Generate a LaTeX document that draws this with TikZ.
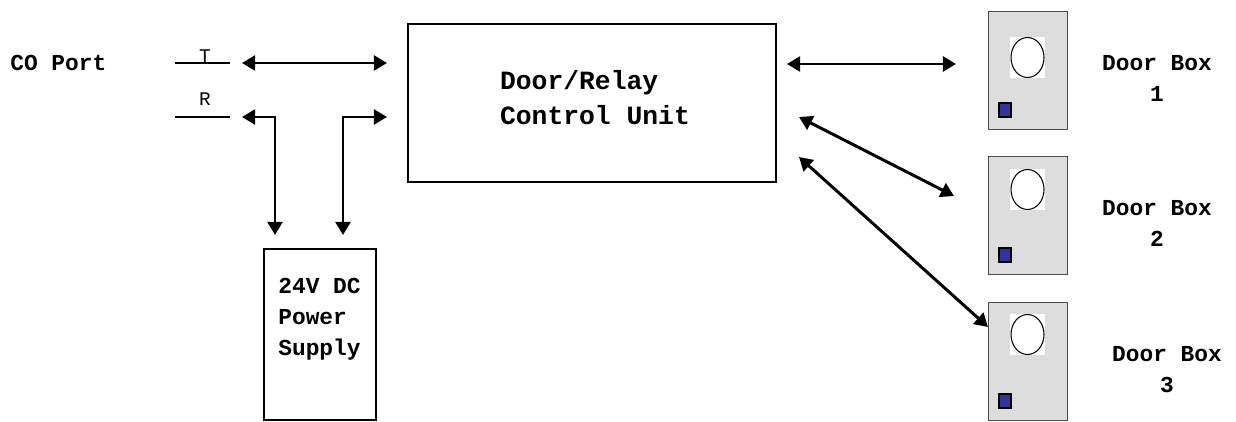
\documentclass[tikz,border=0pt]{standalone}
\usepackage{fontspec}
\setmainfont{Liberation Mono}
\usepackage{xcolor}
\usetikzlibrary{arrows.meta}
\usetikzlibrary{positioning}

\definecolor{boxgray}{HTML}{DDDDDD}
\definecolor{knob}{HTML}{333399}

\tikzset{
  unit/.style={draw, line width=0.7pt, inner sep=0pt},
  link/.style={line width=1.7pt,
    {Triangle[length=7.5pt,width=8.5pt]}-{Triangle[length=7.5pt,width=8.5pt]}},
  tag/.style={font=\bfseries\fontsize{13}{17.6}\selectfont, inner sep=0pt, align=center},
  wire/.style={font=\fontsize{11}{13}\selectfont, inner sep=0pt},
}

\begin{document}
\begin{tikzpicture}[x=0.02cm, y=-0.02cm] % 1 unit = 1 px

      \useasboundingbox (0,0) rectangle (1236,422);

      % CO port
      \node [tag, anchor=west] (co) at (10,63) {CO Port};
      \draw [line width=0.6pt] (175,63) -- (230,63);
      \draw [line width=0.6pt] (175,117) -- (230,117);
      \node [wire, anchor=base] (tw) at (205,63) {T};
      \node [wire, anchor=base] (rw) at (205,106) {R};

      % control unit and power supply
      \node [unit, minimum width=7.36cm, minimum height=3.16cm] (cu) at (592,103) {};
      \node [tag, font=\bfseries\fontsize{15}{20}\selectfont, align=left]
      (cutext) at (595,97.5) {Door/Relay\\Control Unit};

      \node [unit, minimum width=2.24cm, minimum height=3.42cm] (ps) at (320,334.5) {};
      \node [tag, align=left, anchor=west] (pstext) at (278,319) {24V DC\\Power\\Supply};

      % door boxes
      \foreach \i/\t/\c/\s/\lx in {1/11/37/103/1157, 2/156/169/248/1157, 3/302/314/394/1167} {
        \node [draw=black!70, fill=boxgray, line width=0.6pt, inner sep=0pt,
        minimum width=1.58cm, minimum height=2.36cm, anchor=north west]
        (door\i) at (988,\t) {};
        \fill [white] (1010,\c) rectangle (1045,{\c+41});
        \draw [line width=0.6pt] (1027.5,{\c+20.5}) ellipse [x radius=0.33cm, y radius=0.4cm];
        \draw [fill=knob, line width=0.6pt] (999,\s) rectangle (1011,{\s+14});
        \node [tag] (doorlabel\i) at (\lx,{\t+67.5}) {Door Box\\\i};
      }

      % arrow ends
      \coordinate (t-a) at (242,63);
      \coordinate (t-b) at (387,63);
      \coordinate (r-a) at (242,117);
      \coordinate (r-b) at (387,117);
      \coordinate (ps-a) at (275,235);
      \coordinate (ps-b) at (343,235);
      \coordinate (cu-1) at (787,64);
      \coordinate (db-1) at (956,64);
      \coordinate (cu-2) at (799,117);
      \coordinate (db-2) at (954,196);
      \coordinate (cu-3) at (799,157);
      \coordinate (db-3) at (988,327);

      \draw [link] (t-a) -- (t-b);
      \draw [link] (r-a) -| (ps-a);
      \draw [link] (ps-b) |- (r-b);
      \draw [link] (cu-1) -- (db-1);
      \draw [link] (cu-2) -- (db-2);
      \draw [link] (cu-3) -- (db-3);

    \end{tikzpicture}
\end{document}
